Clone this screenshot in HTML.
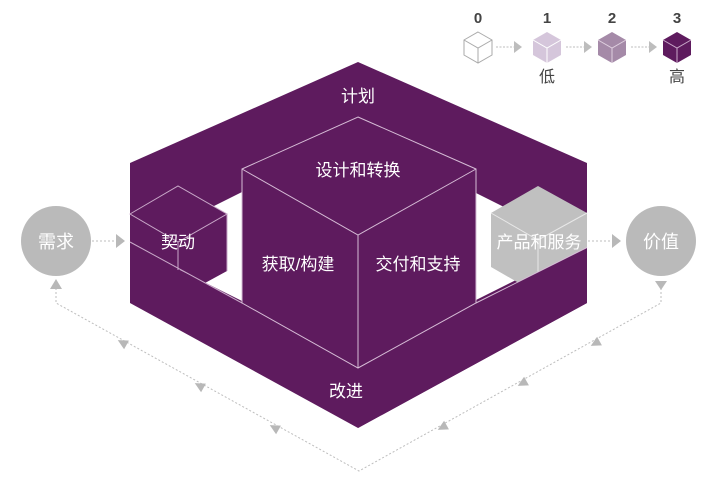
<!DOCTYPE html>
<html><head><meta charset="utf-8"><style>
html,body{margin:0;padding:0;background:#fff;width:720px;height:486px;overflow:hidden}
svg{display:block}
text{font-family:"Liberation Sans","Noto Sans CJK SC",sans-serif}
</style></head><body>
<svg width="720" height="486" viewBox="0 0 720 486">
<!-- feedback loop -->
<g stroke="#bdbdbd" stroke-width="1" stroke-dasharray="2,2" fill="none">
<polyline points="56,284 56,303 359,471 661,303 661,285"/>
</g>
<g fill="#b8b8b8">
<polygon points="56,279 50,289 62,289"/>
<polygon points="661,290 655,281 667,281"/>
<path d="M6,0L-4,-5L-4,5z" transform="translate(123,343) rotate(209)"/>
<path d="M6,0L-4,-5L-4,5z" transform="translate(200,386) rotate(209)"/>
<path d="M6,0L-4,-5L-4,5z" transform="translate(275,428) rotate(209)"/>
<path d="M6,0L-4,-5L-4,5z" transform="translate(596,343) rotate(151)"/>
<path d="M6,0L-4,-5L-4,5z" transform="translate(523,383) rotate(151)"/>
<path d="M6,0L-4,-5L-4,5z" transform="translate(443,427) rotate(151)"/>
</g>
<!-- horizontal flow -->
<g stroke="#bdbdbd" stroke-width="1" stroke-dasharray="2,2">
<line x1="92" y1="241" x2="116" y2="241"/>
<line x1="228" y1="241" x2="242" y2="241"/>
<line x1="476" y1="241" x2="491" y2="241"/>
<line x1="588" y1="241" x2="612" y2="241"/>
</g>
<polygon points="116,234 125,241 116,248" fill="#b8b8b8"/>
<polygon points="612,234 621,241 612,248" fill="#b8b8b8"/>
<circle cx="56" cy="241" r="35" fill="#bababa"/>
<circle cx="661" cy="241" r="35" fill="#bababa"/>
<text x="56" y="248" font-size="18" fill="#fff" text-anchor="middle">需求</text>
<text x="661" y="248" font-size="18" fill="#fff" text-anchor="middle">价值</text>
<!-- ring -->
<polygon points="358,62 587,163 587,303 358,428 130,303 130,163" fill="#5e1b5e"/>
<polygon points="358,134 536,223 536,270 358,359 180,270 180,223" fill="#fff"/>
<!-- gray cube -->
<polygon points="538,186 587,213 587,267 538,294 491,267 491,213" fill="#c0c0c0"/>
<g stroke="#e8e8e8" stroke-width="1" fill="none"><polyline points="491,213 538,240 587,213"/><line x1="538" y1="240" x2="538" y2="294"/></g>
<polygon points="476,303 587,247.5 587,303 358,428 358,368" fill="#5e1b5e"/>
<!-- 契动 cube -->
<polygon points="130,214 178,186 227,214 227,271 205,283 130,242" fill="#5e1b5e"/>
<g stroke="#c9a9c9" stroke-width="1" fill="none">
<polygon points="130,214 178,186 227,214 178,242"/>
<line x1="178" y1="242" x2="178" y2="270"/>
<line x1="227" y1="214" x2="227" y2="271"/>
<line x1="130" y1="242" x2="242" y2="303"/>
</g>
<!-- big cube -->
<polygon points="358,117 476,169 476,303 358,368 242,303 242,169" fill="#5e1b5e"/>
<g stroke="#d6bcd6" stroke-width="1" fill="none">
<polygon points="358,117 476,169 476,303 358,368 242,303 242,169"/>
<polyline points="242,169 358,235 476,169"/>
<line x1="358" y1="235" x2="358" y2="368"/>
<line x1="476" y1="303" x2="587" y2="247.5"/>
</g>
<g fill="#fff" font-size="17" text-anchor="middle">
<text x="358" y="102">计划</text>
<text x="358" y="176">设计和转换</text>
<text x="298" y="270">获取/构建</text>
<text x="418" y="270">交付和支持</text>
<text x="178" y="248">契动</text>
<text x="539" y="248">产品和服务</text>
<text x="346" y="397">改进</text>
</g>
<!-- legend -->
<g font-size="15" font-weight="bold" fill="#444" text-anchor="middle">
<text x="478" y="23">0</text><text x="547" y="23">1</text><text x="612" y="23">2</text><text x="677" y="23">3</text>
</g>
<g font-size="16" fill="#444" text-anchor="middle"><text x="547" y="82">低</text><text x="677" y="82">高</text></g>
<g stroke="#bdbdbd" stroke-dasharray="2,1.5"><line x1="496" y1="47" x2="515" y2="47"/><line x1="566" y1="47" x2="585" y2="47"/><line x1="631" y1="47" x2="650" y2="47"/></g>
<g fill="#bdbdbd"><polygon points="514,41 522,47 514,53"/><polygon points="584,41 592,47 584,53"/><polygon points="649,41 657,47 649,53"/></g>
<g>
<polygon points="478,32 492,40 492,55 478,63 464,55 464,40" fill="#fff" stroke="#aaa"/>
<polyline points="464,40 478,48 492,40" fill="none" stroke="#aaa"/><line x1="478" y1="48" x2="478" y2="63" stroke="#aaa"/>
<polygon points="547,32 561,40 561,55 547,63 533,55 533,40" fill="#d5c6db"/>
<polyline points="533,40 547,48 561,40" fill="none" stroke="#fff"/><line x1="547" y1="48" x2="547" y2="63" stroke="#fff"/>
<polygon points="612,32 626,40 626,55 612,63 598,55 598,40" fill="#a58aa8"/>
<polyline points="598,40 612,48 626,40" fill="none" stroke="#e0d0e0"/><line x1="612" y1="48" x2="612" y2="63" stroke="#e0d0e0"/>
<polygon points="677,32 691,40 691,55 677,63 663,55 663,40" fill="#5e1b5e"/>
<polyline points="663,40 677,48 691,40" fill="none" stroke="#c9a9c9"/><line x1="677" y1="48" x2="677" y2="63" stroke="#c9a9c9"/>
</g>
</svg>
</body></html>
